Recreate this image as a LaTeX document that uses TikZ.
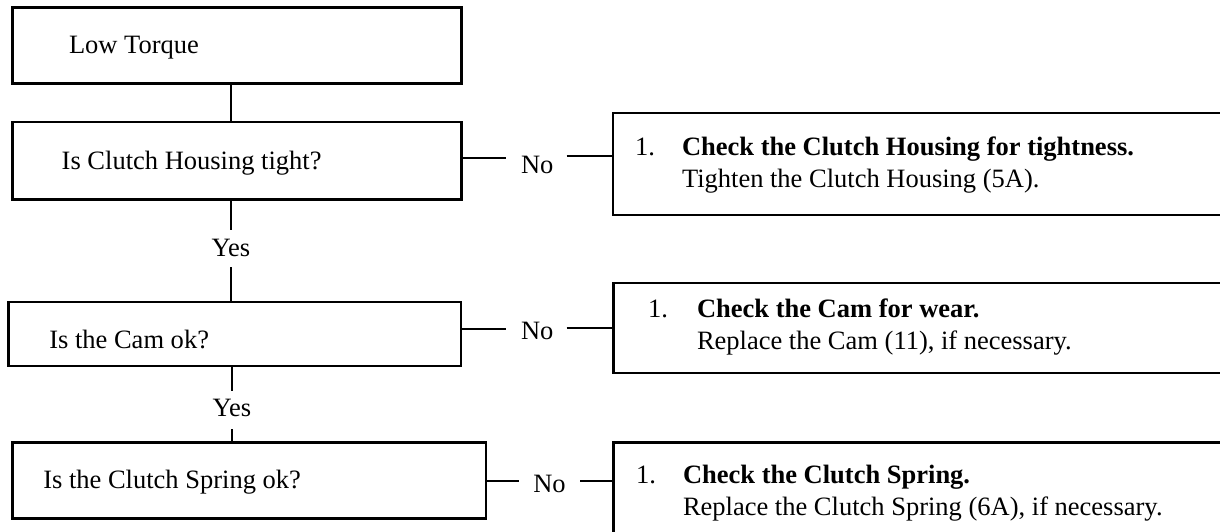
\documentclass[tikz,border=0pt]{standalone}
\usepackage{fontspec}
\setmainfont{Liberation Serif}
\begin{document}
\begin{tikzpicture}[x=1pt,y=-1pt,
  every node/.style={font=\fontsize{26.5}{30}\selectfont, inner sep=0pt, outer sep=0pt},
  box/.style={draw, line width=2.2pt, rectangle, anchor=north west},
  txt/.style={anchor=base west},
  lbl/.style={anchor=base},
  conn/.style={line width=2.2pt}]
\useasboundingbox (0,0) rectangle (1220,531);
\clip (0,0) rectangle (1220,531);

% left boxes
\node[box, minimum width=449pt, minimum height=76pt] (b1) at (12.5,7.5) {};
\node[box, minimum width=449pt, minimum height=77.5pt] (b2) at (12.5,122) {};
\node[box, minimum width=452.5pt, minimum height=64pt] (b3) at (8.5,302) {};
\node[box, minimum width=473.5pt, minimum height=76pt] (b4) at (12.5,442.5) {};

% right boxes (run past the right edge)
\node[box, minimum width=800pt, minimum height=102pt] (r1) at (613,113) {};
\node[box, minimum width=800pt, minimum height=90pt] (r2) at (613.5,283.3) {};
\node[box, minimum width=800pt, minimum height=200pt] (r3) at (613.5,442.5) {};

% left texts
\node[txt] (t1) at (69,53.3) {Low Torque};
\node[txt] (t2) at (61.7,169.5) {Is Clutch Housing tight?};
\node[txt] (t3) at (49.3,348.5) {Is the Cam ok?};
\node[txt] (t4) at (43.3,488.8) {Is the Clutch Spring ok?};

% right texts
\node[txt] (n1) at (635,155.5) {1.};
\node[txt] (c1) at (682,155.5) {\textbf{Check the Clutch Housing for tightness.}};
\node[txt] (d1) at (682,187) {Tighten the Clutch Housing (5A).};
\node[txt] (n2) at (648,317) {1.};
\node[txt] (c2) at (697,317) {\textbf{Check the Cam for wear.}};
\node[txt] (d2) at (697,349) {Replace the Cam (11), if necessary.};
\node[txt] (n3) at (636,483.5) {1.};
\node[txt] (c3) at (683,483.5) {\textbf{Check the Clutch Spring.}};
\node[txt] (d3) at (683,515.5) {Replace the Clutch Spring (6A), if necessary.};

% labels
\node[lbl] (yes1) at (231,256) {Yes};
\node[lbl] (yes2) at (232,416.7) {Yes};
\node[lbl] (no1) at (537.2,173.3) {No};
\node[lbl] (no2) at (537.2,339.3) {No};
\node[lbl] (no3) at (549.5,492.7) {No};

% helper coordinates
\coordinate (sp) at (231,0);
\coordinate (h1) at (0,157.7);
\coordinate (h1r) at (0,156);
\coordinate (h2) at (0,329.3);
\coordinate (h2r) at (0,327.7);
\coordinate (h3) at (0,480.7);

% vertical spine
\draw[conn] (b1.south -| sp) -- (b2.north -| sp);
\draw[conn, shorten >=8.5pt] (b2.south -| yes1) -- (yes1.north);
\draw[conn, shorten <=11pt] (yes1.south) -- (b3.north -| yes1);
\draw[conn, shorten >=8.5pt] (b3.south -| yes2) -- (yes2.north);
\draw[conn, shorten <=12.3pt] (yes2.south) -- (b4.north -| yes2);

% No branches
\draw[conn, shorten >=15pt] (b2.east |- h1) -- (no1.west |- h1);
\draw[conn, shorten <=13.3pt] (no1.east |- h1r) -- (r1.west |- h1r);
\draw[conn, shorten >=15pt] (b3.east |- h2) -- (no2.west |- h2);
\draw[conn, shorten <=13.3pt] (no2.east |- h2r) -- (r2.west |- h2r);
\draw[conn, shorten >=14pt] (b4.east |- h3) -- (no3.west |- h3);
\draw[conn, shorten <=14.3pt] (no3.east |- h3) -- (r3.west |- h3);
\end{tikzpicture}
\end{document}
